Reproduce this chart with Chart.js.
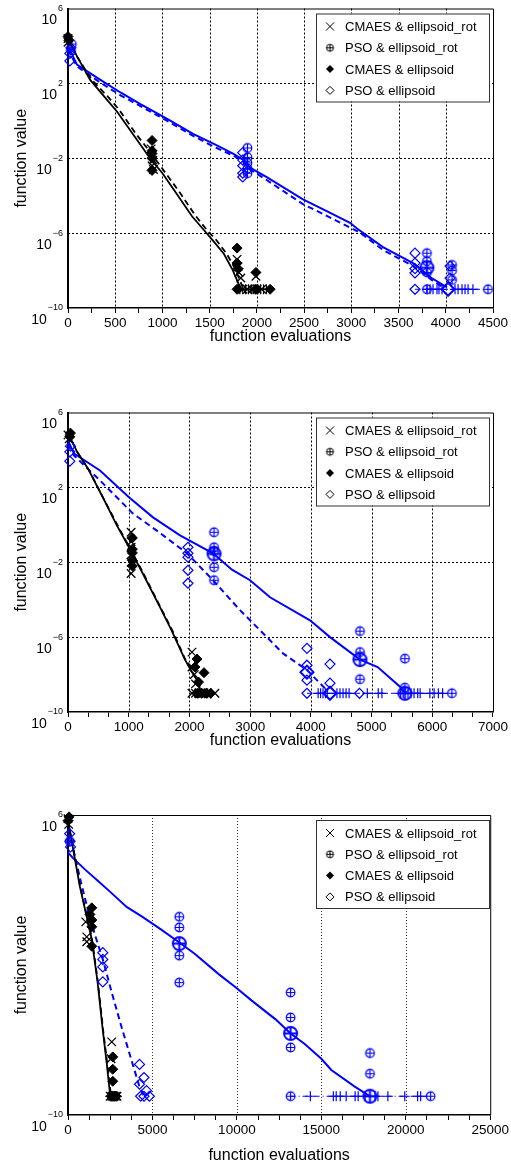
<!DOCTYPE html>
<html>
<head>
<meta charset="utf-8">
<script src="https://cdn.jsdelivr.net/npm/chart.js@4.4.0/dist/chart.umd.min.js"></script>
<style>
    body { margin: 0; background: #fff; width: 511px; height: 1169px; position: relative; overflow: hidden; }
    .panel { position: absolute; left: 0; width: 511px; }
    canvas { display: block; }
</style>
</head>
<body>
<div class="panel" style="top:0px"><canvas id="c1" width="511" height="350" style="width:511px;height:350px"></canvas></div>
<div class="panel" style="top:404px"><canvas id="c2" width="511" height="350" style="width:511px;height:350px"></canvas></div>
<div class="panel" style="top:807px"><canvas id="c3" width="511" height="362" style="width:511px;height:362px"></canvas></div>
<script>
// all y values are log10 of the function value
const TARGET = -9;
const legendLabels = ['CMAES & ellipsoid_rot', 'PSO & ellipsoid_rot', 'CMAES & ellipsoid', 'PSO & ellipsoid'];

// ---------- panel 1 ----------
const p1XTicks = [0, 500, 1000, 1500, 2000, 2500, 3000, 3500, 4000, 4500];
const p1YTicks = [6, 2, -2, -6, -10];
const p1CmaRotX = [0, 100, 233, 400, 518, 700, 868, 1000, 1150, 1313, 1450, 1535, 1650, 1747, 1821];
const p1CmaRotY = [4.4, 3.4, 2.2, 1.2, 0.5, -0.8, -2.0, -2.8, -3.9, -5.1, -5.9, -6.4, -7.1, -8.0, -8.9];
const p1CmaX = [0, 100, 250, 420, 540, 720, 890, 1020, 1180, 1340, 1480, 1560, 1680, 1770, 1850];
const p1CmaY = [4.4, 3.4, 2.2, 1.3, 0.6, -0.7, -1.8, -2.7, -3.8, -5.0, -5.9, -6.3, -7.1, -7.9, -8.9];
const p1PsoRotX = [0, 95, 339, 560, 762, 1050, 1324, 1550, 1747, 1860, 1927, 2100, 2488, 2750, 2986, 3060, 3335, 3653, 3850, 4013];
const p1PsoRotY = [4.0, 3.0, 2.2, 1.5, 0.9, 0.1, -0.7, -1.25, -1.75, -2.1, -2.5, -3.0, -4.2, -4.85, -5.45, -5.75, -6.75, -7.6, -8.4, -8.9];
const p1PsoX = [0, 95, 339, 560, 762, 1050, 1324, 1550, 1747, 1860, 1927, 2100, 2488, 2750, 2986, 3100, 3335, 3653, 3850, 3990];
const p1PsoY = [3.8, 2.9, 2.05, 1.35, 0.8, 0.0, -0.8, -1.4, -1.85, -2.2, -2.6, -3.15, -4.45, -5.1, -5.7, -6.0, -6.9, -7.75, -8.5, -8.95];
const p1CmaEndX = [1790, 2140];
const p1CmaPlusX = [1820, 1850, 1880, 1910, 1940, 1960, 1980, 2010, 2040, 2070, 2100];
const p1PsoEndX = [3674, 4447];
const p1PsoPlusX = [3801, 3833, 3865, 3907, 3928, 3960, 4098, 4130, 4172, 4204, 4236, 4288];
const p1MarkCmaRotX = [0, 0, 880, 890, 900, 890, 905, 1790, 1800, 1810, 1830, 1990, 1850, 1900, 1950, 2000, 2050];
const p1MarkCmaRotY = [4.4, 4.2, -1.5, -1.8, -2.1, -2.4, -2.6, -7.4, -7.8, -8.1, -8.4, -8.3, -9, -9, -9, -9, -9];
const p1MarkCmaX = [0, 10, 890, 890, 890, 890, 890, 1790, 1790, 1800, 1990, 1790, 1990, 2140];
const p1MarkCmaY = [4.5, 4.3, -1.05, -1.6, -1.75, -2.0, -2.65, -6.8, -7.6, -7.9, -8.1, -9, -9, -9];
const p1MarkPsoRotX = [30, 40, 1900, 1900, 1900, 1900, 1900, 3800, 3800, 3800, 4066, 4066, 4066, 3801, 4447];
const p1MarkPsoRotY = [3.8, 4.1, -1.45, -1.95, -2.25, -2.55, -2.8, -7.07, -7.5, -8.1, -7.7, -8.0, -8.5, -9, -9];
const p1MedPsoRotX = [3800];
const p1MedPsoRotY = [-7.85];
const p1MarkPsoX = [20, 20, 30, 1850, 1850, 1850, 1850, 1850, 3674, 3674, 3674, 3674, 4045, 4045, 3674];
const p1MarkPsoY = [3.2, 3.6, 3.9, -1.7, -2.1, -2.4, -2.8, -3.0, -7.07, -7.6, -7.9, -8.13, -7.76, -8.4, -9];
const p1MedPsoX = [4024];
const p1MedPsoY = [-9];

// ---------- panel 2 ----------
const p2XTicks = [0, 1000, 2000, 3000, 4000, 5000, 6000, 7000];
const p2YTicks = [6, 2, -2, -6, -10];
const p2CmaRotX = [0, 150, 330, 600, 800, 1004, 1200, 1515, 1700, 1926, 2050, 2125, 2200];
const p2CmaRotY = [4.9, 3.9, 3.0, 1.3, 0.0, -1.2, -2.4, -4.4, -5.6, -7.2, -7.9, -8.3, -9.0];
const p2CmaX = [0, 150, 340, 610, 820, 1020, 1220, 1530, 1720, 1940, 2060, 2140, 2220];
const p2CmaY = [4.9, 3.9, 2.95, 1.25, -0.05, -1.25, -2.45, -4.45, -5.65, -7.25, -7.95, -8.35, -9.0];
const p2PsoRotX = [0, 100, 527, 1004, 1400, 1845, 2388, 2700, 2998, 3327, 3986, 4315, 4809, 5100, 5468, 5549];
const p2PsoRotY = [4.5, 3.8, 2.9, 1.47, 0.4, -0.56, -1.52, -2.4, -2.96, -3.87, -5.1, -6.0, -7.2, -7.6, -8.65, -9.0];
const p2PsoX = [0, 100, 527, 1070, 1500, 1960, 2388, 2833, 3162, 3541, 3936, 4282];
const p2PsoY = [4.3, 3.7, 2.37, 0.6, -0.4, -1.52, -2.96, -4.56, -5.63, -6.87, -7.76, -8.9];
const p2CmaEndX = [2042, 2420];
const p2CmaPlusX = [2100, 2150, 2200, 2250, 2300, 2350];
const p2PsoEndX = [3936, 6323];
const p2PsoPlusX = [4120, 4160, 4200, 4240, 4270, 4430, 4480, 4530, 4580, 4630, 4930, 5110, 5170, 5480, 5520, 5600, 5650, 5700, 5760, 5800, 5960, 6030, 6100, 6170];
const p2MarkCmaRotX = [0, 20, 1040, 1040, 1040, 1040, 1040, 1040, 2042, 2042, 2080, 2100, 2042, 2100, 2150, 2200, 2300, 2420];
const p2MarkCmaRotY = [4.8, 4.6, -0.4, -0.9, -1.2, -1.6, -2.0, -2.6, -6.8, -7.6, -8.0, -8.5, -9, -9, -9, -9, -9, -9];
const p2MarkCmaX = [30, 40, 1060, 1060, 1060, 1060, 1060, 2125, 2090, 2240, 2150, 2130, 2200, 2280, 2350];
const p2MarkCmaY = [4.7, 4.9, -0.7, -1.3, -1.5, -1.9, -2.2, -7.17, -7.6, -7.9, -8.4, -9, -9, -9, -9];
const p2MarkPsoRotX = [2405, 2405, 2405, 2405, 2405, 4809, 4809, 4809, 5549, 5549, 6323];
const p2MarkPsoRotY = [-0.4, -1.2, -1.4, -2.27, -2.96, -5.68, -6.8, -8.25, -7.15, -8.7, -9];
const p2MedPsoRotX = [2405, 4809, 5549];
const p2MedPsoRotY = [-1.55, -7.2, -9];
const p2MarkPsoX = [30, 30, 40, 1976, 1976, 1976, 1976, 1976, 3936, 3936, 3936, 3936, 4315, 4315, 4800];
const p2MarkPsoY = [3.4, 3.9, 4.2, -1.2, -1.52, -1.73, -2.43, -3.12, -6.6, -7.5, -8.3, -9, -7.44, -8.46, -9];
const p2MedPsoX = [3936, 4315];
const p2MedPsoY = [-7.87, -9];

// ---------- panel 3 ----------
const p3XTicks = [0, 5000, 10000, 15000, 20000, 25000];
const p3YTicks = [6, -10];
const p3CmaRotX = [0, 300, 700, 1100, 1400, 1750, 2050, 2300, 2500];
const p3CmaRotY = [5.7, 4.2, 2.2, 0.6, -0.6, -2.9, -5.4, -7.3, -9.0];
const p3CmaX = [0, 320, 720, 1120, 1420, 1770, 2070, 2330, 2550];
const p3CmaY = [5.7, 4.2, 2.2, 0.6, -0.6, -2.9, -5.4, -7.3, -9.0];
const p3PsoRotX = [0, 300, 1000, 1880, 2500, 3470, 4410, 5500, 6590, 7500, 8940, 9940, 10880, 12290, 13180, 14000, 15000, 15590, 17000, 17880];
const p3PsoRotY = [4.0, 3.7, 3.1, 2.4, 1.9, 1.1, 0.57, -0.1, -0.8, -1.4, -2.5, -3.2, -3.9, -4.9, -5.65, -6.2, -7.0, -7.6, -8.5, -9.0];
const p3PsoX = [0, 300, 800, 1300, 1600, 2060, 2600, 3200, 3800, 4235, 4500];
const p3PsoY = [5.2, 4.2, 2.3, 0.5, -0.4, -1.7, -3.5, -5.4, -7.2, -8.5, -9.0];
const p3CmaEndX = [2450, 3000];
const p3CmaPlusX = [2500, 2600, 2700, 2800, 2900];
const p3PsoEndX = [13180, 21470];
const p3PsoPlusX = [14350, 15710, 15880, 16120, 16470, 17000, 17180, 17590, 18180, 18350, 18940, 19940, 20700, 20880];
const p3MarkCmaRotX = [0, 40, 1110, 1110, 1050, 2590, 2550, 2500, 2600, 2700, 2800, 2900];
const p3MarkCmaRotY = [5.8, 5.5, -0.5, -0.76, 0.3, -6.1, -7.0, -9, -9, -9, -9, -9];
const p3MarkCmaX = [0, 60, 1300, 1410, 1410, 1410, 1410, 2650, 2650, 2650, 2550, 2650, 2750, 2850];
const p3MarkCmaY = [5.7, 5.9, 0.7, 1.05, 0.4, 0.04, -1.0, -6.9, -7.56, -8.2, -9, -9, -9, -9];
const p3MarkPsoRotX = [100, 6590, 6590, 6590, 6590, 13180, 13180, 13180, 13180, 17880, 17880, 21470];
const p3MarkPsoRotY = [4.6, 0.57, 0.0, -1.5, -2.94, -3.47, -4.8, -6.4, -9, -6.7, -7.8, -9];
const p3MedPsoRotX = [6590, 13180, 17880];
const p3MedPsoRotY = [-0.86, -5.65, -9];
const p3MarkPsoX = [100, 120, 150, 2060, 2060, 2060, 2060, 4235, 4500, 4235, 4650, 4300, 4500, 4820];
const p3MarkPsoY = [5.0, 4.6, 4.3, -1.34, -1.7, -2.1, -2.9, -7.3, -8.0, -8.36, -8.7, -9, -9, -9];

const BLUE = '#0000ff';
const BLACK = '#000000';
const FONT = '"Liberation Sans", Arial, Helvetica, sans-serif';

//turn x list + log10 list into chart points
function pts(xs, ys) {
    return xs.map((x, i) => ({ x: x, y: Math.pow(10, ys[i]) }));
}
function flat(xs) {
    return xs.map(x => ({ x: x, y: Math.pow(10, TARGET) }));
}

// circle with a cross, used for the PSO rot markers
function plusCircle(r, color, lw) {
    let c = document.createElement('canvas');
    let s = Math.ceil(2 * r + 4);
    c.width = s; c.height = s;
    let g = c.getContext('2d');
    g.strokeStyle = color;
    g.lineWidth = lw;
    g.beginPath();
    g.arc(s / 2, s / 2, r, 0, Math.PI * 2);
    g.moveTo(s / 2 - r, s / 2); g.lineTo(s / 2 + r, s / 2);
    g.moveTo(s / 2, s / 2 - r); g.lineTo(s / 2, s / 2 + r);
    g.stroke();
    return c;
}
const ocBlue = plusCircle(4.3, BLUE, 1.2);
const ocBlueBig = plusCircle(6.5, BLUE, 2);
const ocLegend = plusCircle(3.5, BLACK, 1);

function line(data, color, dash, width) {
    return { data: data, showLine: true, borderColor: color, borderWidth: width || 1.7, borderDash: dash || [], pointRadius: 0, fill: false, tension: 0 };
}
function marks(data, style, radius, color, fill, width) {
    return { data: data, showLine: false, pointStyle: style, pointRadius: radius, pointHoverRadius: radius,
        borderColor: color, backgroundColor: fill, pointBorderWidth: width || 1, clip: 8 };
}

// dotted grid lines drawn under the data
const gridPlugin = {
    id: 'dotGrid',
    beforeDatasetsDraw(chart) {
        let o = chart.options.plugins.dotGrid;
        let ctx = chart.ctx;
        let a = chart.chartArea;
        let sx = chart.scales.x, sy = chart.scales.y;
        ctx.save();
        ctx.strokeStyle = o.color;
        ctx.lineWidth = 1;
        ctx.setLineDash(o.dash);
        ctx.beginPath();
        o.xs.forEach(v => {
            if (v <= sx.min || v >= sx.max) return;
            let px = Math.round(sx.getPixelForValue(v)) + 0.5;
            ctx.moveTo(px, a.top); ctx.lineTo(px, a.bottom);
        });
        o.ys.forEach(e => {
            let py = Math.round(sy.getPixelForValue(Math.pow(10, e))) + 0.5;
            ctx.moveTo(a.left, py); ctx.lineTo(a.right, py);
        });
        ctx.stroke();
        ctx.restore();
    }
};

// draws the "10" with exponent labels like the original plot program
const yLabelPlugin = {
    id: 'yLabels',
    afterDraw(chart) {
        let ctx = chart.ctx;
        let s = chart.scales.y;
        let exps = chart.options.plugins.yLabels.exps;
        ctx.save();
        ctx.fillStyle = '#000';
        ctx.textBaseline = 'middle';
        ctx.textAlign = 'right';
        exps.forEach(e => {
            let py = s.getPixelForValue(Math.pow(10, e));
            let t = e < 0 ? '\u2212' + Math.abs(e) : String(e);
            ctx.font = '9px ' + FONT;
            ctx.fillText(t, 63, py);
            let w = ctx.measureText(t).width;
            ctx.font = '14px ' + FONT;
            ctx.fillText('10', 63 - w - 1, py + 12);
        });
        ctx.restore();
    }
};

// frame on top and right plus the boxed legend
const framePlugin = {
    id: 'frameLegend',
    afterDraw(chart) {
        let ctx = chart.ctx;
        let a = chart.chartArea;
        ctx.save();
        ctx.strokeStyle = '#000';
        ctx.lineWidth = 1;
        ctx.beginPath();
        ctx.moveTo(a.left, a.top + 0.5); ctx.lineTo(a.right + 0.5, a.top + 0.5); ctx.lineTo(a.right + 0.5, a.bottom);
        ctx.stroke();
        // legend box
        let bx = 316, by = a.top + 5, bw = 173, bh = 88;
        ctx.fillStyle = '#fff';
        ctx.fillRect(bx, by, bw, bh);
        ctx.strokeStyle = '#333';
        ctx.strokeRect(bx + 0.5, by + 0.5, bw, bh);
        ctx.font = '13px ' + FONT;
        ctx.textBaseline = 'middle';
        ctx.textAlign = 'left';
        for (let i = 0; i < legendLabels.length; i++) {
            let y = by + 13 + i * 21.3;
            let x = 330;
            ctx.strokeStyle = '#000';
            ctx.fillStyle = '#000';
            ctx.lineWidth = 1;
            ctx.beginPath();
            if (i == 0) {
                ctx.moveTo(x - 4, y - 4); ctx.lineTo(x + 4, y + 4);
                ctx.moveTo(x + 4, y - 4); ctx.lineTo(x - 4, y + 4);
                ctx.stroke();
            } else if (i == 1) {
                ctx.drawImage(ocLegend, x - ocLegend.width / 2, y - ocLegend.height / 2);
            } else {
                ctx.moveTo(x, y - 4); ctx.lineTo(x + 4, y); ctx.lineTo(x, y + 4); ctx.lineTo(x - 4, y); ctx.closePath();
                if (i == 2) ctx.fill(); else ctx.stroke();
            }
            ctx.fillStyle = '#000';
            ctx.fillText(legendLabels[i], 345, y + 1);
        }
        ctx.restore();
    }
};

function makePanel(id, d) {
    let xMax = d.xTicks[d.xTicks.length - 1];
    let datasets = [
        marks(pts(d.mCmaRotX, d.mCmaRotY), 'crossRot', 6, BLACK, BLACK, 1.3),
        marks(pts(d.mCmaX, d.mCmaY), 'rectRot', 5, BLACK, BLACK, 1),
        marks(pts(d.mPsoRotX, d.mPsoRotY), ocBlue, 4, BLUE, BLUE, 1),
        marks(pts(d.medPsoRotX, d.medPsoRotY), ocBlueBig, 6, BLUE, BLUE, 1),
        marks(pts(d.mPsoX, d.mPsoY), 'rectRot', 5, BLUE, 'rgba(0,0,0,0)', 1.2),
        marks(pts(d.medPsoX, d.medPsoY), 'rectRot', 6.5, BLUE, 'rgba(0,0,0,0)', 2),
        marks(flat(d.cmaPlusX), 'cross', 5, BLACK, BLACK, 1.2),
        marks(flat(d.psoPlusX), 'cross', 5, BLUE, BLUE, 1.2),
        line(flat(d.cmaEndX), BLACK, [5, 3, 1, 3], 1),
        line(flat(d.psoEndX), BLUE, [5, 3, 1, 3], 1),
        line(pts(d.cmaRotX, d.cmaRotY), BLACK, [], 1.8),
        line(pts(d.cmaX, d.cmaY), BLACK, [6, 4], 1.8),
        line(pts(d.psoRotX, d.psoRotY), BLUE, [], 2),
        line(pts(d.psoX, d.psoY), BLUE, [6, 4], 2)
    ];
    let yInner = d.yTicks.filter(e => e != d.yTicks[0] && e != d.yTicks[d.yTicks.length - 1]);
    new Chart(document.getElementById(id), {
        type: 'scatter',
        data: { datasets: datasets },
        options: {
            responsive: false,
            animation: false,
            layout: { padding: { left: 0, right: 18, top: 8, bottom: 4 } },
            plugins: {
                legend: { display: false }, tooltip: { enabled: false },
                yLabels: { exps: d.yTicks },
                dotGrid: { xs: d.xTicks, ys: yInner, color: d.gridColor, dash: d.gridDash }
            },
            scales: {
                x: {
                    type: 'linear', min: 0, max: xMax,
                    afterBuildTicks: s => {
                        let t = [];
                        for (let v = 0; v <= xMax + 1e-6; v += d.minor) t.push({ value: v });
                        s.ticks = t;
                    },
                    afterFit: s => { s.height = d.axisH; },
                    ticks: {
                        autoSkip: false, maxRotation: 0, padding: 2, color: '#000',
                        font: { family: FONT, size: 13.5 },
                        callback: v => d.xTicks.some(m => Math.abs(m - v) < 1e-6) ? String(Math.round(v)) : ''
                    },
                    grid: { drawOnChartArea: false, tickColor: '#000', tickLength: 5, tickWidth: 1 },
                    border: { display: true, color: '#000', width: 1.5 },
                    title: { display: true, text: 'function evaluations', color: '#000', font: { family: FONT, size: 16 }, padding: { top: 0, bottom: 0 } }
                },
                y: {
                    type: 'logarithmic', min: 1e-10, max: 1e6,
                    afterBuildTicks: s => { s.ticks = d.yTicks.map(e => ({ value: Math.pow(10, e) })); },
                    afterFit: s => { s.width = 68; },
                    ticks: { display: false },
                    grid: { drawOnChartArea: false, drawTicks: false },
                    border: { display: true, color: '#000', width: 2 },
                    title: { display: true, text: 'function value', color: '#000', font: { family: FONT, size: 16 }, padding: { top: 12, bottom: 0 } }
                }
            }
        },
        plugins: [gridPlugin, yLabelPlugin, framePlugin]
    });
}

makePanel('c1', {
    xTicks: p1XTicks, yTicks: p1YTicks, minor: 250, axisH: 38, gridColor: '#000', gridDash: [2, 2],
    cmaRotX: p1CmaRotX, cmaRotY: p1CmaRotY, cmaX: p1CmaX, cmaY: p1CmaY,
    psoRotX: p1PsoRotX, psoRotY: p1PsoRotY, psoX: p1PsoX, psoY: p1PsoY,
    cmaEndX: p1CmaEndX, cmaPlusX: p1CmaPlusX, psoEndX: p1PsoEndX, psoPlusX: p1PsoPlusX,
    mCmaRotX: p1MarkCmaRotX, mCmaRotY: p1MarkCmaRotY, mCmaX: p1MarkCmaX, mCmaY: p1MarkCmaY,
    mPsoRotX: p1MarkPsoRotX, mPsoRotY: p1MarkPsoRotY, medPsoRotX: p1MedPsoRotX, medPsoRotY: p1MedPsoRotY,
    mPsoX: p1MarkPsoX, mPsoY: p1MarkPsoY, medPsoX: p1MedPsoX, medPsoY: p1MedPsoY
});
makePanel('c2', {
    xTicks: p2XTicks, yTicks: p2YTicks, minor: 1000 / 3, axisH: 38, gridColor: '#000', gridDash: [2, 2],
    cmaRotX: p2CmaRotX, cmaRotY: p2CmaRotY, cmaX: p2CmaX, cmaY: p2CmaY,
    psoRotX: p2PsoRotX, psoRotY: p2PsoRotY, psoX: p2PsoX, psoY: p2PsoY,
    cmaEndX: p2CmaEndX, cmaPlusX: p2CmaPlusX, psoEndX: p2PsoEndX, psoPlusX: p2PsoPlusX,
    mCmaRotX: p2MarkCmaRotX, mCmaRotY: p2MarkCmaRotY, mCmaX: p2MarkCmaX, mCmaY: p2MarkCmaY,
    mPsoRotX: p2MarkPsoRotX, mPsoRotY: p2MarkPsoRotY, medPsoRotX: p2MedPsoRotX, medPsoRotY: p2MedPsoRotY,
    mPsoX: p2MarkPsoX, mPsoY: p2MarkPsoY, medPsoX: p2MedPsoX, medPsoY: p2MedPsoY
});
makePanel('c3', {
    xTicks: p3XTicks, yTicks: p3YTicks, minor: 1250, axisH: 50, gridColor: '#333', gridDash: [1, 2],
    cmaRotX: p3CmaRotX, cmaRotY: p3CmaRotY, cmaX: p3CmaX, cmaY: p3CmaY,
    psoRotX: p3PsoRotX, psoRotY: p3PsoRotY, psoX: p3PsoX, psoY: p3PsoY,
    cmaEndX: p3CmaEndX, cmaPlusX: p3CmaPlusX, psoEndX: p3PsoEndX, psoPlusX: p3PsoPlusX,
    mCmaRotX: p3MarkCmaRotX, mCmaRotY: p3MarkCmaRotY, mCmaX: p3MarkCmaX, mCmaY: p3MarkCmaY,
    mPsoRotX: p3MarkPsoRotX, mPsoRotY: p3MarkPsoRotY, medPsoRotX: p3MedPsoRotX, medPsoRotY: p3MedPsoRotY,
    mPsoX: p3MarkPsoX, mPsoY: p3MarkPsoY, medPsoX: [], medPsoY: []
});
</script>
</body>
</html>
